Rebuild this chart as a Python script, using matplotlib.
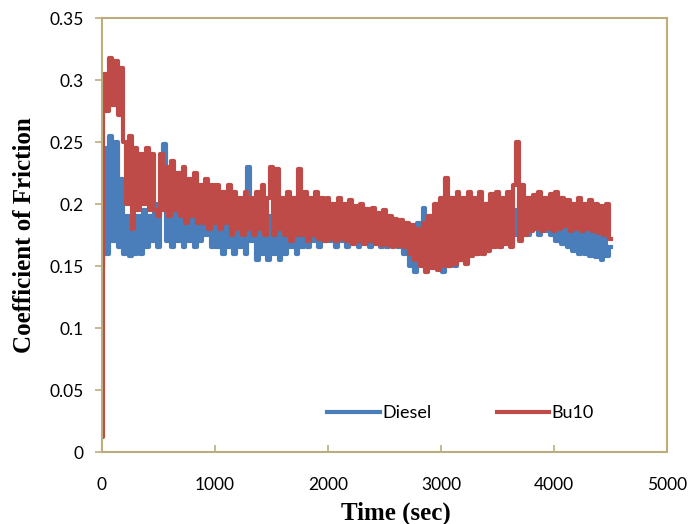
import numpy as np
import matplotlib
matplotlib.use("Agg")
import matplotlib.pyplot as plt

# sampling times (sec), one reading every 25 s
time = np.arange(0, 4525, 25)

diesel = [
    0.150, 0.245, 0.160, 0.255, 0.170, 0.250, 0.165, 0.220, 0.160, 0.190,
    0.158, 0.185, 0.160, 0.190, 0.160, 0.195, 0.165, 0.190, 0.170, 0.200,
    0.165, 0.195, 0.248, 0.170, 0.200, 0.165, 0.195, 0.170, 0.190, 0.165,
    0.200, 0.170, 0.195, 0.165, 0.205, 0.170, 0.190, 0.175, 0.200, 0.165,
    0.195, 0.165, 0.190, 0.160, 0.200, 0.165, 0.190, 0.160, 0.195, 0.165,
    0.190, 0.160, 0.230, 0.170, 0.195, 0.155, 0.190, 0.160, 0.195, 0.155,
    0.190, 0.160, 0.185, 0.155, 0.190, 0.160, 0.185, 0.165, 0.190, 0.160,
    0.195, 0.165, 0.190, 0.165, 0.195, 0.170, 0.190, 0.165, 0.195, 0.170,
    0.190, 0.170, 0.195, 0.165, 0.190, 0.170, 0.185, 0.165, 0.190, 0.170,
    0.185, 0.165, 0.190, 0.170, 0.185, 0.165, 0.185, 0.170, 0.180, 0.165,
    0.185, 0.165, 0.180, 0.170, 0.185, 0.165, 0.180, 0.160, 0.175, 0.150,
    0.170, 0.145, 0.185, 0.155, 0.197, 0.150, 0.190, 0.150, 0.185, 0.148,
    0.185, 0.145, 0.190, 0.150, 0.185, 0.150, 0.190, 0.155, 0.195, 0.155,
    0.190, 0.160, 0.195, 0.160, 0.190, 0.165, 0.200, 0.165, 0.195, 0.170,
    0.200, 0.165, 0.195, 0.170, 0.200, 0.170, 0.195, 0.175, 0.205, 0.175,
    0.205, 0.175, 0.200, 0.180, 0.205, 0.175, 0.200, 0.178, 0.205, 0.175,
    0.200, 0.170, 0.195, 0.168, 0.195, 0.165, 0.190, 0.162, 0.190, 0.160,
    0.188, 0.160, 0.185, 0.158, 0.185, 0.157, 0.185, 0.155, 0.185, 0.158,
    0.165,
]

bu10 = [
    0.012, 0.305, 0.275, 0.318, 0.280, 0.315, 0.272, 0.310, 0.250, 0.200,
    0.255, 0.180, 0.245, 0.195, 0.240, 0.200, 0.245, 0.195, 0.240, 0.195,
    0.190, 0.240, 0.195, 0.230, 0.190, 0.235, 0.195, 0.225, 0.190, 0.230,
    0.185, 0.220, 0.190, 0.225, 0.185, 0.215, 0.185, 0.220, 0.180, 0.215,
    0.185, 0.215, 0.180, 0.210, 0.185, 0.215, 0.175, 0.210, 0.180, 0.205,
    0.175, 0.210, 0.180, 0.205, 0.175, 0.210, 0.180, 0.215, 0.175, 0.205,
    0.230, 0.175, 0.228, 0.180, 0.205, 0.175, 0.210, 0.170, 0.205, 0.175,
    0.228, 0.175, 0.210, 0.170, 0.205, 0.175, 0.210, 0.172, 0.205, 0.170,
    0.205, 0.172, 0.200, 0.170, 0.205, 0.172, 0.200, 0.170, 0.203, 0.168,
    0.198, 0.170, 0.200, 0.168, 0.196, 0.170, 0.197, 0.168, 0.193, 0.167,
    0.195, 0.167, 0.190, 0.165, 0.188, 0.166, 0.187, 0.165, 0.185, 0.160,
    0.183, 0.155, 0.180, 0.150, 0.185, 0.145, 0.190, 0.148, 0.200, 0.147,
    0.205, 0.150, 0.221, 0.150, 0.205, 0.152, 0.210, 0.155, 0.205, 0.152,
    0.210, 0.158, 0.205, 0.160, 0.210, 0.160, 0.200, 0.162, 0.208, 0.165,
    0.210, 0.165, 0.205, 0.168, 0.210, 0.165, 0.215, 0.250, 0.170, 0.215,
    0.175, 0.205, 0.178, 0.207, 0.180, 0.210, 0.178, 0.205, 0.180, 0.208,
    0.178, 0.210, 0.180, 0.205, 0.182, 0.203, 0.178, 0.200, 0.180, 0.205,
    0.178, 0.200, 0.180, 0.203, 0.178, 0.200, 0.177, 0.198, 0.175, 0.200,
    0.172,
]

frame_col = "#bcae7c"

fig = plt.figure(figsize=(6.91, 5.24), dpi=100)
ax = fig.add_axes([0.1476, 0.1374, 0.8177, 0.8282])

ax.plot(time, diesel, color="#4a7ebb", lw=3.0, drawstyle="steps-mid",
        label="Diesel")
ax.plot(time, bu10, color="#be4b48", lw=3.0, drawstyle="steps-mid",
        label="Bu10")

ax.set_xlim(0, 5000)
ax.set_ylim(0, 0.35)
ax.set_xticks([0, 1000, 2000, 3000, 4000, 5000])
ax.set_yticks([0, 0.05, 0.1, 0.15, 0.2, 0.25, 0.3, 0.35])
ax.set_yticklabels(["0", "0.05", "0.1", "0.15", "0.2", "0.25", "0.3", "0.35"])

for s in ax.spines.values():
    s.set_color(frame_col)
    s.set_linewidth(1.5)

ax.tick_params(axis="y", direction="out", length=5, width=1.2, color=frame_col,
               labelsize=12.5, pad=8)
ax.tick_params(axis="x", direction="in", length=5, width=1.2, color=frame_col,
               labelsize=12.5, pad=18)
for lab in ax.get_xticklabels() + ax.get_yticklabels():
    lab.set_fontfamily("Lato")

ax.set_xlabel("Time (sec)", fontfamily="Liberation Serif", fontweight="bold",
              fontsize=18, labelpad=4)
ax.xaxis.set_label_coords(0.52, -0.115)
ax.set_ylabel("Coefficient of Friction", fontfamily="Liberation Serif",
              fontweight="bold", fontsize=18, labelpad=10)

ax.legend(loc="center", bbox_to_anchor=(0.635, 0.09), ncol=2, frameon=False,
          handlelength=2.9, columnspacing=3.6, handletextpad=0.15,
          prop={"family": "Lato", "size": 13})

fig.savefig("out.png", dpi=100)
